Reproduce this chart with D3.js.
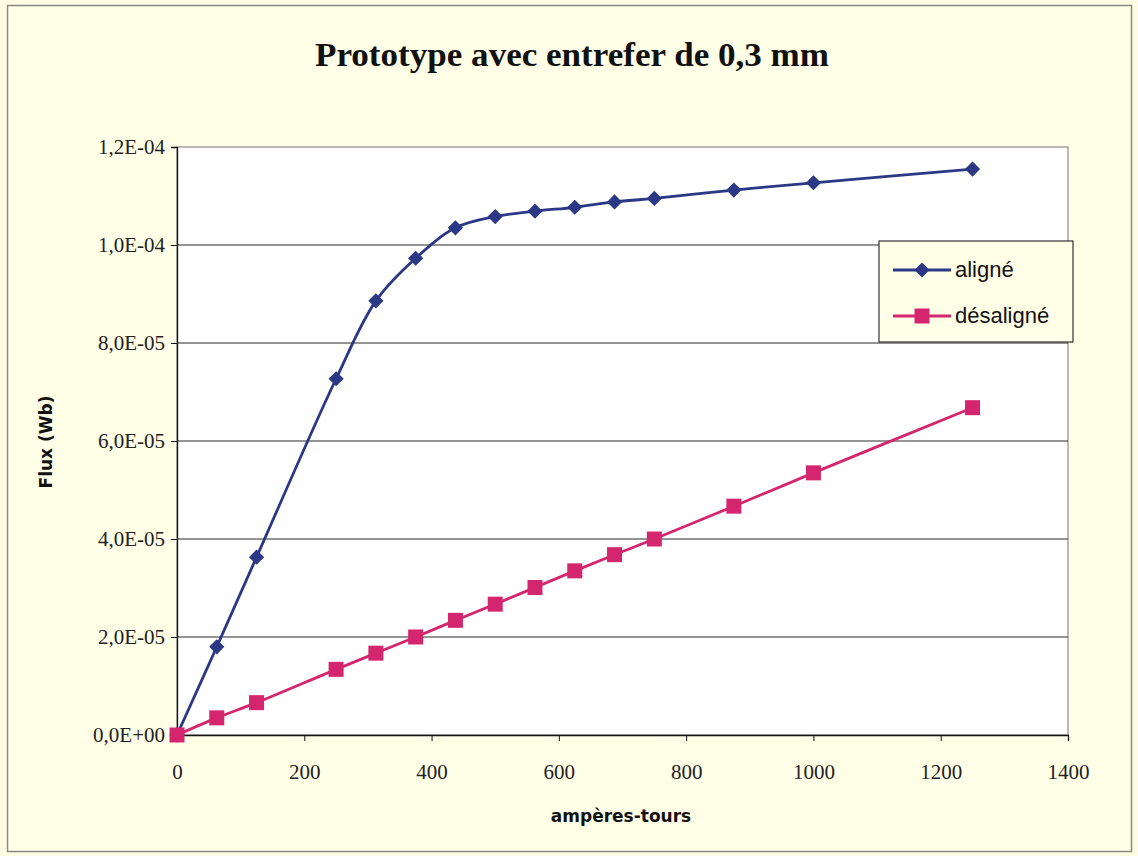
<!DOCTYPE html>
<html><head><meta charset="utf-8">
<script src="https://cdn.jsdelivr.net/npm/d3@7"></script>
<style>html,body{margin:0;padding:0;background:#fefde3;}</style>
</head><body>
<svg id="c" width="1138" height="856"></svg>
<script>
const ampereTours = [0, 62.5, 125, 250, 312.5, 375, 437.5, 500, 562.5, 625, 687.5, 750, 875, 1000, 1250];
const aligne = [0, 1.80e-5, 3.63e-5, 7.27e-5, 8.86e-5, 9.73e-5, 1.035e-4, 1.058e-4, 1.069e-4, 1.077e-4, 1.088e-4, 1.095e-4, 1.112e-4, 1.127e-4, 1.155e-4];
const desaligne = [0, 3.5e-6, 6.6e-6, 1.34e-5, 1.67e-5, 2.0e-5, 2.34e-5, 2.67e-5, 3.01e-5, 3.35e-5, 3.68e-5, 4.0e-5, 4.67e-5, 5.35e-5, 6.68e-5];
const xTicks = [0, 200, 400, 600, 800, 1000, 1200, 1400];
const yTicks = [0, 2e-5, 4e-5, 6e-5, 8e-5, 1e-4, 1.2e-4];
const yTickLabels = ["0,0E+00", "2,0E-05", "4,0E-05", "6,0E-05", "8,0E-05", "1,0E-04", "1,2E-04"];
const seriesNames = ["aligné", "désaligné"];
const title = "Prototype avec entrefer de 0,3 mm";
const xTitle = "ampères-tours";
const yTitle = "Flux (Wb)";

const svg = d3.select("#c");
const W = 1138, H = 856;
const m = {left: 177, top: 147, right: 1068, bottom: 735};
const blue = "#2a3886", pink = "#d4266e";
const serif = "Liberation Serif, Times New Roman, serif";
const sans = "DejaVu Sans, Verdana, sans-serif";

svg.append("rect").attr("x", 0).attr("y", 0).attr("width", W).attr("height", H).attr("fill", "#fefde3");
svg.append("rect").attr("x", 7.5).attr("y", 5.5).attr("width", 1124).attr("height", 846)
  .attr("fill", "#fffee6").attr("stroke", "#8a8a80").attr("stroke-width", 1.5);

const x = d3.scaleLinear().domain([0, 1400]).range([m.left, m.right]);
const y = d3.scaleLinear().domain([0, 1.2e-4]).range([m.bottom, m.top]);

svg.append("rect").attr("x", m.left).attr("y", m.top).attr("width", m.right - m.left).attr("height", m.bottom - m.top)
  .attr("fill", "#ffffff").attr("stroke", "#8c8c8c").attr("stroke-width", 1.2);

svg.append("g").selectAll("line").data(yTicks.slice(1, -1)).join("line")
  .attr("x1", m.left).attr("x2", m.right).attr("y1", d => y(d)).attr("y2", d => y(d))
  .attr("stroke", "#2a2a2a").attr("stroke-width", 1.1);

const yAxis = d3.axisLeft(y).tickValues(yTicks).tickSize(6).tickFormat((d, i) => yTickLabels[i]);
const gy = svg.append("g").attr("transform", `translate(${m.left},0)`).call(yAxis);
gy.select(".domain").attr("stroke", "#111").attr("stroke-width", 1.3);
gy.selectAll(".tick line").attr("stroke", "#111");
gy.selectAll(".tick text").attr("font-family", serif)
  .attr("font-size", 21).attr("fill", "#222").attr("x", -12);

const xAxis = d3.axisBottom(x).tickValues(xTicks).tickSize(6).tickFormat(d3.format("d"));
const gx = svg.append("g").attr("transform", `translate(0,${m.bottom})`).call(xAxis);
gx.select(".domain").attr("stroke", "#111").attr("stroke-width", 1.3);
gx.selectAll(".tick line").attr("stroke", "#111");
gx.selectAll(".tick text").attr("font-family", serif)
  .attr("font-size", 21).attr("fill", "#222").attr("y", 29);

svg.append("text").attr("x", 572).attr("y", 66).attr("text-anchor", "middle")
  .attr("font-family", serif).attr("font-weight", "bold")
  .attr("font-size", 34).attr("fill", "#111")
  .attr("textLength", 514).attr("lengthAdjust", "spacingAndGlyphs").text(title);
svg.append("text").attr("x", 621).attr("y", 822).attr("text-anchor", "middle")
  .attr("font-family", sans).attr("font-weight", "bold")
  .attr("font-size", 17).attr("fill", "#111").text(xTitle);
svg.append("text").attr("transform", `translate(52,442) rotate(-90)`).attr("text-anchor", "middle")
  .attr("font-family", sans).attr("font-weight", "bold")
  .attr("font-size", 17).attr("fill", "#111").text(yTitle);

const line = d3.line().x(d => x(d[0])).y(d => y(d[1])).curve(d3.curveCatmullRom.alpha(0.5));
const s1 = ampereTours.map((a, i) => [a, aligne[i]]);
const s2 = ampereTours.map((a, i) => [a, desaligne[i]]);

svg.append("path").datum(s1).attr("d", line).attr("fill", "none").attr("stroke", blue).attr("stroke-width", 2.8);
svg.append("path").datum(s2).attr("d", line).attr("fill", "none").attr("stroke", pink).attr("stroke-width", 2.8);

const diamondPath = d3.symbol().type(d3.symbolSquare).size(115)();
svg.append("g").selectAll("path").data(s1).join("path")
  .attr("d", diamondPath)
  .attr("transform", d => `translate(${x(d[0])},${y(d[1])}) rotate(45)`)
  .attr("fill", blue);
svg.append("g").selectAll("rect").data(s2).join("rect")
  .attr("x", d => x(d[0]) - 7.5).attr("y", d => y(d[1]) - 7.5).attr("width", 15).attr("height", 15)
  .attr("fill", pink);

const lg = svg.append("g").attr("transform", "translate(879,241)");
lg.append("rect").attr("x", 0).attr("y", 0).attr("width", 194).attr("height", 101)
  .attr("fill", "#fffee6").attr("stroke", "#333").attr("stroke-width", 1.2);
const items = [{name: seriesNames[0], color: blue, type: "d", yy: 29}, {name: seriesNames[1], color: pink, type: "s", yy: 75}];
items.forEach(it => {
  lg.append("line").attr("x1", 14).attr("x2", 72).attr("y1", it.yy).attr("y2", it.yy)
    .attr("stroke", it.color).attr("stroke-width", 2.8);
  if (it.type === "d") {
    lg.append("path").attr("d", diamondPath)
      .attr("transform", `translate(43,${it.yy}) rotate(45)`).attr("fill", it.color);
  } else {
    lg.append("rect").attr("x", 35.5).attr("y", it.yy - 7.5).attr("width", 15).attr("height", 15).attr("fill", it.color);
  }
  lg.append("text").attr("x", 76).attr("y", it.yy + 7).attr("font-family", "Liberation Sans, Arial, sans-serif")
    .attr("font-size", 22).attr("fill", "#111").text(it.name);
});
</script>
</body></html>
